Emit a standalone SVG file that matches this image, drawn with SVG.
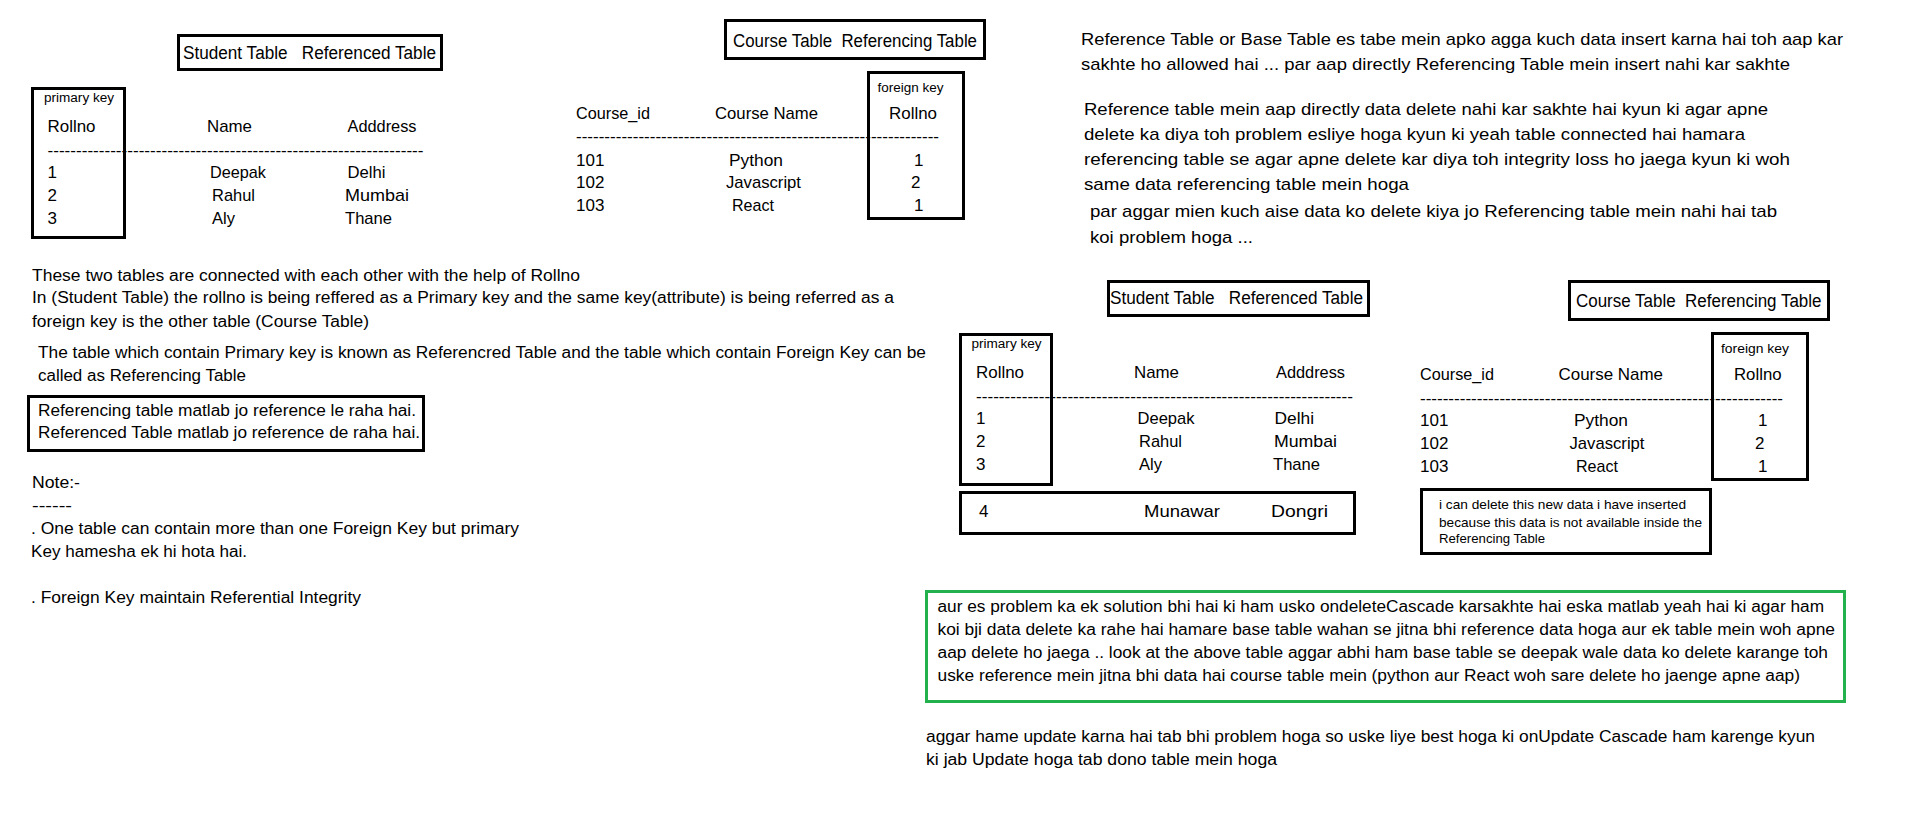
<svg xmlns="http://www.w3.org/2000/svg" width="1914" height="831" viewBox="0 0 1914 831">
<style>
text{font-family:"Liberation Sans",Arial,sans-serif;fill:#000}
.h{font-size:18px;white-space:pre}
.c{font-size:17px}
.p{font-size:16px}
.s{font-size:12px}
.n{font-size:13px}
.box{fill:none;stroke:#000;stroke-width:3}
.gbox{fill:none;stroke:#22b14c;stroke-width:3}
</style>
<rect width="1914" height="831" fill="#fff"/>

<g id="student-table-1">
<rect class="box" x="178.5" y="35.5" width="263" height="34"/>
<text class="h" xml:space="preserve" x="183" y="59" textLength="253" lengthAdjust="spacingAndGlyphs">Student Table   Referenced Table</text>
<rect class="box" x="32.5" y="88.5" width="92" height="149"/>
<text class="s" x="44" y="102" textLength="70" lengthAdjust="spacingAndGlyphs">primary key</text>
<text class="c" x="47.5" y="132" textLength="48" lengthAdjust="spacingAndGlyphs">Rollno</text>
<text class="c" x="207" y="132" textLength="45" lengthAdjust="spacingAndGlyphs">Name</text>
<text class="c" x="347.5" y="132" textLength="69" lengthAdjust="spacingAndGlyphs">Adddress</text>
<text class="c" x="47.5" y="156" textLength="376" lengthAdjust="spacingAndGlyphs">------------------------------------------------------------------</text>
<text class="c" x="47.5" y="178">1</text>
<text class="c" x="47.5" y="201">2</text>
<text class="c" x="47.5" y="224">3</text>
<text class="c" x="210" y="178" textLength="56" lengthAdjust="spacingAndGlyphs">Deepak</text>
<text class="c" x="212" y="201" textLength="43" lengthAdjust="spacingAndGlyphs">Rahul</text>
<text class="c" x="212" y="224" textLength="23" lengthAdjust="spacingAndGlyphs">Aly</text>
<text class="c" x="347.5" y="178" textLength="38" lengthAdjust="spacingAndGlyphs">Delhi</text>
<text class="c" x="345" y="201" textLength="64" lengthAdjust="spacingAndGlyphs">Mumbai</text>
<text class="c" x="345" y="224" textLength="47" lengthAdjust="spacingAndGlyphs">Thane</text>
</g>

<g id="course-table-1">
<rect class="box" x="725.5" y="20.5" width="259" height="38"/>
<text class="h" xml:space="preserve" x="733" y="47" textLength="244" lengthAdjust="spacingAndGlyphs">Course Table  Referencing Table</text>
<rect class="box" x="868.5" y="72.5" width="95" height="146"/>
<text class="s" x="877.5" y="92" textLength="66" lengthAdjust="spacingAndGlyphs">foreign key</text>
<text class="c" x="889" y="119" textLength="48" lengthAdjust="spacingAndGlyphs">Rollno</text>
<text class="c" x="576" y="119" textLength="74" lengthAdjust="spacingAndGlyphs">Course_id</text>
<text class="c" x="715" y="119" textLength="103" lengthAdjust="spacingAndGlyphs">Course Name</text>
<text class="c" x="576" y="142" textLength="363" lengthAdjust="spacingAndGlyphs">----------------------------------------------------------------</text>
<text class="c" x="576" y="166">101</text>
<text class="c" x="576" y="188">102</text>
<text class="c" x="576" y="211">103</text>
<text class="c" x="729" y="166" textLength="54" lengthAdjust="spacingAndGlyphs">Python</text>
<text class="c" x="726" y="188" textLength="75" lengthAdjust="spacingAndGlyphs">Javascript</text>
<text class="c" x="732" y="211" textLength="42" lengthAdjust="spacingAndGlyphs">React</text>
<text class="c" x="914" y="166">1</text>
<text class="c" x="911" y="188">2</text>
<text class="c" x="914" y="211">1</text>
</g>

<g id="insert-note">
<text class="c" x="1081" y="45" textLength="762" lengthAdjust="spacingAndGlyphs">Reference Table or Base Table es tabe mein apko agga kuch data insert karna hai toh aap kar</text>
<text class="c" x="1081" y="70" textLength="709" lengthAdjust="spacingAndGlyphs">sakhte ho allowed hai ... par aap directly Referencing Table mein insert nahi kar sakhte</text>
</g>

<g id="delete-note">
<text class="c" x="1084" y="115" textLength="684" lengthAdjust="spacingAndGlyphs">Reference table mein aap directly data delete nahi kar sakhte hai kyun ki agar apne</text>
<text class="c" x="1084" y="140" textLength="661" lengthAdjust="spacingAndGlyphs">delete ka diya toh problem esliye hoga kyun ki yeah table connected hai hamara</text>
<text class="c" x="1084" y="165" textLength="706" lengthAdjust="spacingAndGlyphs">referencing table se agar apne delete kar diya toh integrity loss ho jaega kyun ki woh</text>
<text class="c" x="1084" y="190" textLength="325" lengthAdjust="spacingAndGlyphs">same data referencing table mein hoga</text>
<text class="c" x="1090" y="217" textLength="687" lengthAdjust="spacingAndGlyphs">par aggar mien kuch aise data ko delete kiya jo Referencing table mein nahi hai tab</text>
<text class="c" x="1090" y="243" textLength="163" lengthAdjust="spacingAndGlyphs">koi problem hoga ...</text>
</g>

<g id="explanation">
<text class="p" x="32" y="281" textLength="548" lengthAdjust="spacingAndGlyphs">These two tables are connected with each other with the help of Rollno</text>
<text class="p" x="32" y="303" textLength="862" lengthAdjust="spacingAndGlyphs">In (Student Table) the rollno is being reffered as a Primary key and the same key(attribute) is being referred as a</text>
<text class="p" x="32" y="327" textLength="337" lengthAdjust="spacingAndGlyphs">foreign key is the other table (Course Table)</text>
<text class="p" x="38" y="358" textLength="888" lengthAdjust="spacingAndGlyphs">The table which contain Primary key is known as Referencred Table and the table which contain Foreign Key can be</text>
<text class="p" x="38" y="381" textLength="208" lengthAdjust="spacingAndGlyphs">called as Referencing Table</text>
</g>

<g id="matlab-box">
<rect class="box" x="28.5" y="396.5" width="395" height="54"/>
<text class="p" x="38" y="416" textLength="378" lengthAdjust="spacingAndGlyphs">Referencing table matlab jo reference le raha hai.</text>
<text class="p" x="38" y="438" textLength="382" lengthAdjust="spacingAndGlyphs">Referenced Table matlab jo reference de raha hai.</text>
</g>

<g id="notes">
<text class="p" x="32" y="488" textLength="48" lengthAdjust="spacingAndGlyphs">Note:-</text>
<text class="p" x="32" y="511" textLength="40" lengthAdjust="spacingAndGlyphs">------</text>
<text class="p" x="31" y="534" textLength="488" lengthAdjust="spacingAndGlyphs">. One table can contain more than one Foreign Key but primary</text>
<text class="p" x="31" y="557" textLength="216" lengthAdjust="spacingAndGlyphs">Key hamesha ek hi hota hai.</text>
<text class="p" x="31" y="603" textLength="330" lengthAdjust="spacingAndGlyphs">. Foreign Key maintain Referential Integrity</text>
</g>

<g id="student-table-2">
<rect class="box" x="1108.5" y="281.5" width="260" height="34"/>
<text class="h" xml:space="preserve" x="1110" y="304" textLength="253" lengthAdjust="spacingAndGlyphs">Student Table   Referenced Table</text>
<rect class="box" x="960.5" y="334.5" width="91" height="150"/>
<text class="s" x="971.5" y="348" textLength="70" lengthAdjust="spacingAndGlyphs">primary key</text>
<text class="c" x="976" y="378" textLength="48" lengthAdjust="spacingAndGlyphs">Rollno</text>
<text class="c" x="1134" y="378" textLength="45" lengthAdjust="spacingAndGlyphs">Name</text>
<text class="c" x="1276" y="378" textLength="69" lengthAdjust="spacingAndGlyphs">Adddress</text>
<text class="c" x="976" y="402" textLength="377" lengthAdjust="spacingAndGlyphs">------------------------------------------------------------------</text>
<text class="c" x="976" y="424">1</text>
<text class="c" x="976" y="447">2</text>
<text class="c" x="976" y="470">3</text>
<text class="c" x="1137.5" y="424" textLength="57" lengthAdjust="spacingAndGlyphs">Deepak</text>
<text class="c" x="1139" y="447" textLength="43" lengthAdjust="spacingAndGlyphs">Rahul</text>
<text class="c" x="1139" y="470" textLength="23" lengthAdjust="spacingAndGlyphs">Aly</text>
<text class="c" x="1274.5" y="424" textLength="39.5" lengthAdjust="spacingAndGlyphs">Delhi</text>
<text class="c" x="1274" y="447" textLength="63" lengthAdjust="spacingAndGlyphs">Mumbai</text>
<text class="c" x="1273" y="470" textLength="47" lengthAdjust="spacingAndGlyphs">Thane</text>
</g>

<g id="new-row">
<rect class="box" x="960.5" y="492.5" width="394" height="41"/>
<text class="c" x="979" y="517">4</text>
<text class="c" x="1144" y="517" textLength="76" lengthAdjust="spacingAndGlyphs">Munawar</text>
<text class="c" x="1271" y="517" textLength="57" lengthAdjust="spacingAndGlyphs">Dongri</text>
</g>

<g id="course-table-2">
<rect class="box" x="1569.5" y="281.5" width="259" height="38"/>
<text class="h" xml:space="preserve" x="1576" y="307" textLength="245.5" lengthAdjust="spacingAndGlyphs">Course Table  Referencing Table</text>
<rect class="box" x="1712.5" y="333.5" width="95" height="146"/>
<text class="s" x="1721" y="353" textLength="68" lengthAdjust="spacingAndGlyphs">foreign key</text>
<text class="c" x="1734" y="380" textLength="47.6" lengthAdjust="spacingAndGlyphs">Rollno</text>
<text class="c" x="1420" y="380" textLength="74" lengthAdjust="spacingAndGlyphs">Course_id</text>
<text class="c" x="1558.5" y="380" textLength="104.5" lengthAdjust="spacingAndGlyphs">Course Name</text>
<text class="c" x="1420" y="404" textLength="363" lengthAdjust="spacingAndGlyphs">----------------------------------------------------------------</text>
<text class="c" x="1420" y="426">101</text>
<text class="c" x="1420" y="449">102</text>
<text class="c" x="1420" y="472">103</text>
<text class="c" x="1574" y="426" textLength="54" lengthAdjust="spacingAndGlyphs">Python</text>
<text class="c" x="1569.5" y="449" textLength="75" lengthAdjust="spacingAndGlyphs">Javascript</text>
<text class="c" x="1576" y="472" textLength="42" lengthAdjust="spacingAndGlyphs">React</text>
<text class="c" x="1758" y="426">1</text>
<text class="c" x="1755" y="449">2</text>
<text class="c" x="1758" y="472">1</text>
</g>

<g id="delete-new-note">
<rect class="box" x="1421.5" y="489.5" width="289" height="64"/>
<text class="n" x="1439" y="509" textLength="247" lengthAdjust="spacingAndGlyphs">i can delete this new data i have inserted</text>
<text class="n" x="1439" y="527" textLength="263" lengthAdjust="spacingAndGlyphs">because this data is not available inside the</text>
<text class="n" x="1439" y="543" textLength="106" lengthAdjust="spacingAndGlyphs">Referencing Table</text>
</g>

<g id="cascade-note">
<rect class="gbox" x="926.5" y="591.5" width="918" height="110"/>
<text class="p" x="937.5" y="612" textLength="886.5" lengthAdjust="spacingAndGlyphs">aur es problem ka ek solution bhi hai ki ham usko ondeleteCascade karsakhte hai eska matlab yeah hai ki agar ham</text>
<text class="p" x="937.5" y="635" textLength="897.5" lengthAdjust="spacingAndGlyphs">koi bji data delete ka rahe hai hamare base table wahan se jitna bhi reference data hoga aur ek table mein woh apne</text>
<text class="p" x="937.5" y="658" textLength="890.5" lengthAdjust="spacingAndGlyphs">aap delete ho jaega .. look at the above table aggar abhi ham base table se deepak wale data ko delete karange toh</text>
<text class="p" x="937.5" y="681" textLength="862.5" lengthAdjust="spacingAndGlyphs">uske reference mein jitna bhi data hai course table mein (python aur React woh sare delete ho jaenge apne aap)</text>
</g>

<g id="update-note">
<text class="p" x="926" y="742" textLength="889" lengthAdjust="spacingAndGlyphs">aggar hame update karna hai tab bhi problem hoga so uske liye best hoga ki onUpdate Cascade ham karenge kyun</text>
<text class="p" x="926" y="765" textLength="351" lengthAdjust="spacingAndGlyphs">ki jab Update hoga tab dono table mein hoga</text>
</g>

<g id="connectors"></g>
</svg>
